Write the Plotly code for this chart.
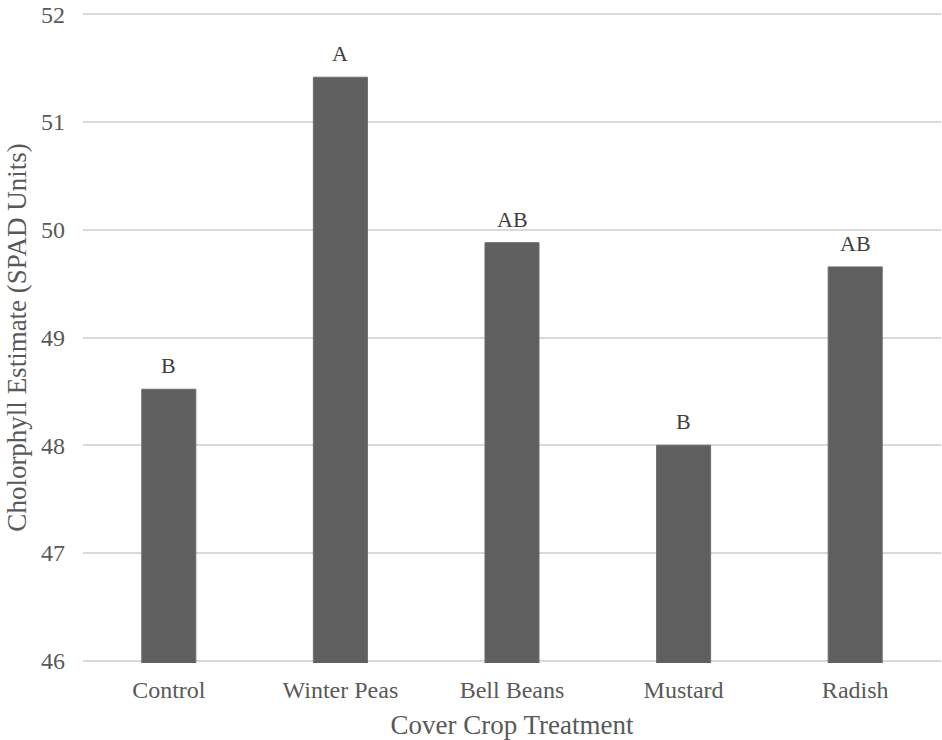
import plotly.graph_objects as go

categories = ["Control", "Winter Peas", "Bell Beans", "Mustard", "Radish"]
values = [48.52, 51.415, 49.88, 48.0, 49.655]
letters = ["B", "A", "AB", "B", "AB"]
y_ticks = [46, 47, 48, 49, 50, 51, 52]

FONT = "Liberation Serif"
TXT = "#595959"

fig = go.Figure()
fig.add_trace(go.Bar(
    x=categories,
    y=values,
    marker=dict(color="#5f5f5f", line=dict(color="#6e6e6e", width=1)),
    width=0.315,
    showlegend=False,
))

for c, v, t in zip(categories, values, letters):
    fig.add_annotation(x=c, y=v, text=t, showarrow=False, yanchor="bottom",
                       yshift=9, font=dict(family=FONT, size=22, color="#404040"))

fig.update_layout(
    width=942, height=740,
    margin=dict(l=83, r=1, t=12, b=77),
    plot_bgcolor="white", paper_bgcolor="white",
    font=dict(family=FONT, size=24, color=TXT),
)
fig.update_xaxes(
    title=dict(text="Cover Crop Treatment", font=dict(family=FONT, size=27, color=TXT), standoff=18),
    tickfont=dict(family=FONT, size=24, color=TXT),
    showgrid=False, showline=False, ticks="", automargin=False, ticklabelstandoff=10,
)
fig.update_yaxes(
    range=[45.98, 52.02], tickvals=y_ticks, ticktext=[str(v) for v in y_ticks],
    title=dict(text="Cholorphyll Estimate (SPAD Units)", font=dict(family=FONT, size=27, color=TXT), standoff=6),
    tickfont=dict(family=FONT, size=24, color=TXT),
    showgrid=True, gridcolor="#d9d9d9", gridwidth=1.5,
    zeroline=False, showline=False, ticks="", ticklabelstandoff=17, automargin=False,
    ticklabeloverflow="allow",
)

fig.write_html("out.html", config={"displayModeBar": False},
               post_script="document.body.style.margin='0';")
